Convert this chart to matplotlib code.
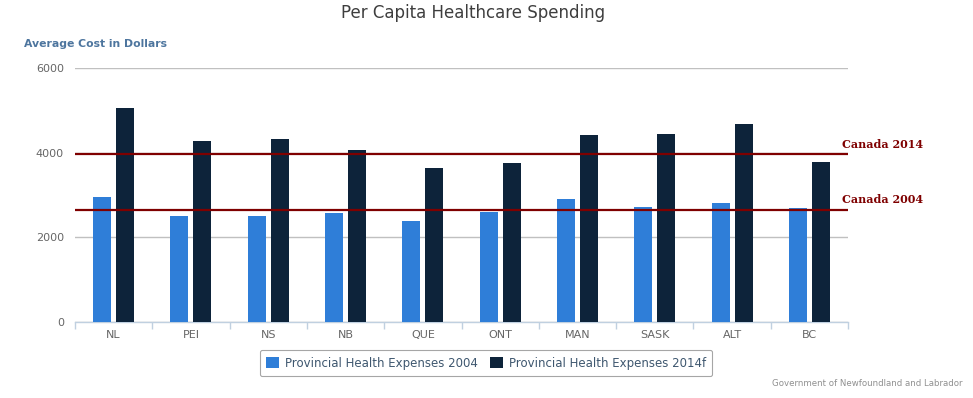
import numpy as np
import matplotlib.pyplot as plt

# data
provinces = ['NL', 'PEI', 'NS', 'NB', 'QUE', 'ONT', 'MAN', 'SASK', 'ALT', 'BC']
exp_2004 = [2950, 2505, 2505, 2575, 2385, 2600, 2905, 2715, 2810, 2695]
exp_2014 = [5055, 4275, 4325, 4065, 3640, 3755, 4420, 4440, 4675, 3780]
canada_avg = {'Canada 2014': 3975, 'Canada 2004': 2655}

c_blue = '#2f7ed8'
c_dark = '#0d233a'
c_line = '#7f0000'

fig = plt.figure(figsize=(9.73, 3.98), dpi=100)
ax = fig.add_axes([75/973, 76/398, 773/973, 254/398])

x = np.arange(len(provinces))
w = 0.233
off = 0.149
ax.bar(x - off, exp_2004, width=w, color=c_blue, label='Provincial Health Expenses 2004', zorder=3)
ax.bar(x + off, exp_2014, width=w, color=c_dark, label='Provincial Health Expenses 2014f', zorder=3)

# canada average lines
for name, val in canada_avg.items():
    ax.axhline(val, color=c_line, lw=1.6, zorder=4)
    ax.annotate(name, xy=(1, val), xycoords=('axes fraction', 'data'),
                xytext=(-4, 3), textcoords='offset points', ha='left', va='bottom',
                fontsize=8, fontweight='bold', family='DejaVu Serif', color=c_line,
                annotation_clip=False)

ax.set_xlim(-0.5, len(provinces) - 0.5)
ax.set_ylim(0, 6000)
ax.set_yticks([0, 2000, 4000, 6000])
ax.yaxis.grid(True, color='#c0c0c0', lw=1, zorder=0)
ax.set_xticks(x)
ax.set_xticklabels(provinces)
ax.set_xticks(np.arange(-0.5, len(provinces)), minor=True)
ax.tick_params(axis='x', which='major', length=0, labelsize=8, labelcolor='#666666', pad=6)
ax.tick_params(axis='x', which='minor', length=5, color='#c0d0e0', width=1)
ax.tick_params(axis='y', length=0, labelsize=8, labelcolor='#666666', pad=8)
for s in ['top', 'right', 'left']:
    ax.spines[s].set_visible(False)
ax.spines['bottom'].set_color('#c0d0e0')
ax.spines['bottom'].set_linewidth(1)

fig.text(473/973, 1 - 13/398, 'Per Capita Healthcare Spending', ha='center', va='center',
         fontsize=12, color='#3e3e3e')
fig.text(24/973, 1 - 44/398, 'Average Cost in Dollars', ha='left', va='center',
         fontsize=7.8, fontweight='bold', color='#4d759e')

leg = fig.legend(loc='center', bbox_to_anchor=(486/973, 1 - 363/398), ncol=2,
                 fontsize=8.5, frameon=True, handlelength=1.1, handleheight=1.1,
                 handletextpad=0.5, columnspacing=1.0, borderpad=0.55, fancybox=True)
leg.get_frame().set_edgecolor('#909090')
leg.get_frame().set_linewidth(0.8)
for t in leg.get_texts():
    t.set_color('#3e576f')

fig.text(963/973, 1 - 384/398, 'Government of Newfoundland and Labrador', ha='right', va='center',
         fontsize=6.2, color='#909090')

fig.savefig('out.png', dpi=100)
